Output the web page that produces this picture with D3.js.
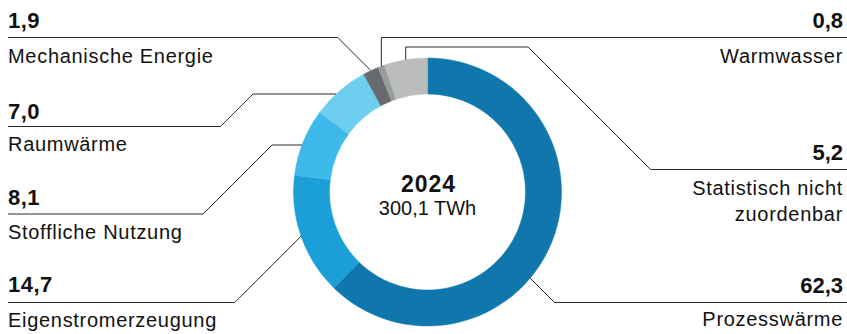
<!DOCTYPE html>
<html><head><meta charset="utf-8">
<script src="https://cdn.jsdelivr.net/npm/d3@7"></script>
<style>
html,body{margin:0;padding:0;background:#fff;}
svg{display:block;font-family:"Liberation Sans",Arial,sans-serif;}
</style></head>
<body>
<svg id="chart" width="847" height="334"></svg>
<script>
// ---- data ----
const categories = ["Prozesswärme","Eigenstromerzeugung","Stoffliche Nutzung","Raumwärme","Mechanische Energie","Warmwasser","Statistisch nicht zuordenbar"];
const values = [62.3, 14.7, 8.1, 7.0, 1.9, 0.8, 5.2];
const valueLabels = ["62,3","14,7","8,1","7,0","1,9","0,8","5,2"];
const labelLines = [["Prozesswärme"],["Eigenstromerzeugung"],["Stoffliche Nutzung"],["Raumwärme"],["Mechanische Energie"],["Warmwasser"],["Statistisch nicht","zuordenbar"]];
const colors = ["#0f77ac","#1c9ed9","#3dbaea","#6dcef0","#676b6d","#999c9e","#bbbcbc"];
const centerYear = "2024";
const centerTotal = "300,1 TWh";

// ---- layout (positions only) ----
const W = 847, H = 334;
const cx = 427.5, cy = 192, R = 134, r0 = 98;
const leftX = 8, rightX = 843, rightEdge = 847;
// per category: side, value baseline, underline y, label baselines, leader route
const layout = [
  {side:"right", vy:292.5, ly:302.5, tys:[326], route:"diag", angle:130},
  {side:"left",  vy:292,   ly:302.5, tys:[327], route:"diag"},
  {side:"left",  vy:204.5, ly:214,   tys:[239], route:"level", level:145, knee:272},
  {side:"left",  vy:118.5, ly:126.5, tys:[151], route:"level", level:94, knee:253},
  {side:"left",  vy:28,    ly:37.5,  tys:[63],  route:"diag"},
  {side:"right", vy:28,    ly:37.5,  tys:[63],  route:"vert"},
  {side:"right", vy:160,   ly:169.5, tys:[195,220.5], route:"vertDiag", level:47, knee:528}
];

const svg = d3.select("#chart");
const g = svg.append("g").attr("transform", `translate(${cx},${cy})`);

const pie = d3.pie().sort(null).value(d => d).startAngle(0).endAngle(2*Math.PI);
const arcs = pie(values);
const arc = d3.arc().innerRadius(r0).outerRadius(R);

g.selectAll("path.seg").data(arcs).enter().append("path")
  .attr("class","seg")
  .attr("d", arc)
  .attr("fill", (d,i) => colors[i])
  .attr("stroke", (d,i) => colors[i])
  .attr("stroke-width", 0.5);

// center text
svg.append("text").attr("x", cx+1).attr("y", 191.5).attr("text-anchor","middle")
  .attr("font-size", 23).attr("font-weight","bold").attr("letter-spacing", 1).attr("fill","#111")
  .text(centerYear);
svg.append("text").attr("x", cx).attr("y", 215).attr("text-anchor","middle")
  .attr("font-size", 20).attr("fill","#111")
  .text(centerTotal);

// leader lines
function ringPoint(angleDeg){
  const a = angleDeg*Math.PI/180;
  return [cx + R*Math.sin(a), cy - R*Math.cos(a)];
}
function ringAtY(y, side){
  const dx = Math.sqrt(R*R - (y-cy)*(y-cy));
  return [side==="left" ? cx - dx : cx + dx, y];
}
const lines = svg.append("g").attr("fill","none").attr("stroke","#2a2a2a").attr("stroke-width",1);

arcs.forEach((d,i) => {
  const L = layout[i];
  const mid = (d.startAngle + d.endAngle)/2*180/Math.PI;
  const edge = L.side === "left" ? leftX : rightEdge;
  let pts;
  if (L.route === "diag") {
    const P = ringPoint(L.angle !== undefined ? L.angle : mid);
    const dy = L.ly - P[1];
    const kx = L.side === "left" ? P[0] - Math.abs(dy) : P[0] + Math.abs(dy);
    pts = [P, [kx, L.ly], [edge, L.ly]];
  } else if (L.route === "vert") {
    const P = ringPoint(mid);
    pts = [P, [P[0], L.ly], [edge, L.ly]];
  } else if (L.route === "level") {
    const P = ringAtY(L.level, L.side);
    const dy = L.ly - L.level;
    pts = [P, [L.knee, L.level], [L.knee - dy, L.ly], [edge, L.ly]];
  } else if (L.route === "vertDiag") {
    const P = ringPoint(mid);
    const dy = L.ly - L.level;
    pts = [P, [P[0], L.level], [L.knee, L.level], [L.knee + dy, L.ly], [edge, L.ly]];
  }
  lines.append("path").attr("d", d3.line()(pts));
});

// labels
const labels = svg.append("g").attr("fill","#111");
categories.forEach((c,i) => {
  const L = layout[i];
  const x = L.side === "left" ? leftX : rightX;
  const anchor = L.side === "left" ? "start" : "end";
  labels.append("text").attr("x", x).attr("y", L.vy).attr("text-anchor", anchor)
    .attr("font-size", 22).attr("font-weight","bold").attr("letter-spacing", L.side==="left"?0.5:0)
    .text(valueLabels[i]);
  labelLines[i].forEach((t,j) => {
    labels.append("text").attr("x", x).attr("y", L.tys[j]).attr("text-anchor", anchor)
      .attr("font-size", 20).attr("letter-spacing", 0.7)
      .text(t);
  });
});
</script>
</body></html>
